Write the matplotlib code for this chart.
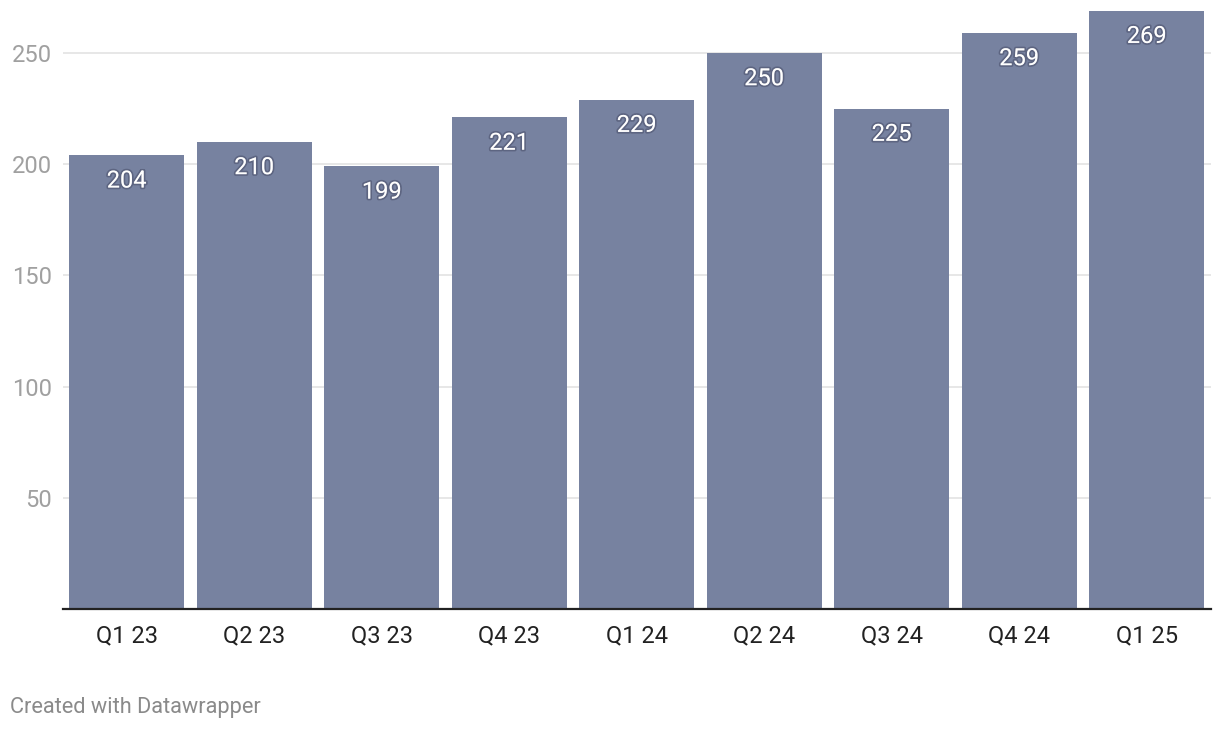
import matplotlib
matplotlib.use("Agg")
import matplotlib.pyplot as plt
import matplotlib.patheffects as pe

quarters = ["Q1 23", "Q2 23", "Q3 23", "Q4 23", "Q1 24", "Q2 24", "Q3 24", "Q4 24", "Q1 25"]
values = [204, 210, 199, 221, 229, 250, 225, 259, 269]
yticks = [50, 100, 150, 200, 250]

plt.rcParams['font.family'] = ['Roboto', 'DejaVu Sans']

fig = plt.figure(figsize=(12.2, 7.3), dpi=100)
ax = fig.add_axes([63 / 1220, 121 / 730, (1210.5 - 63) / 1220, (609 - 10) / 730])

x = range(len(quarters))
ax.bar(x, values, width=0.9, color='#7782a0', zorder=2)

ax.set_xlim(-0.5, len(quarters) - 0.5)
ax.set_ylim(0, (609 - 10) / 2.224)

ax.set_yticks(yticks)
ax.set_yticklabels([str(t) for t in yticks], color='#a0a0a0', fontsize=17)
ax.set_xticks(list(x))
ax.set_xticklabels(quarters, color='#222222', fontsize=17)
ax.tick_params(axis='y', length=0, pad=8)
ax.tick_params(axis='x', length=0, pad=11)

ax.grid(axis='y', color='#e3e3e3', linewidth=1.2, zorder=0)
ax.set_axisbelow(True)
for s in ['top', 'right', 'left']:
    ax.spines[s].set_visible(False)
ax.spines['bottom'].set_color('#222222')
ax.spines['bottom'].set_linewidth(1.6)
ax.spines['bottom'].set_zorder(3)

for i, v in enumerate(values):
    ax.annotate(str(v), (i, v), xytext=(0, -18.5), textcoords='offset points',
                ha='center', va='center', color='white', fontsize=17, zorder=4,
                path_effects=[pe.withStroke(linewidth=2.5, foreground=(0.1, 0.1, 0.2, 0.28))])

fig.text(10 / 1220, 1 - 707 / 730, "Created with Datawrapper", color='#8a8a8a',
         fontsize=15.7, ha='left', va='center')

fig.savefig('out.png', dpi=100)
